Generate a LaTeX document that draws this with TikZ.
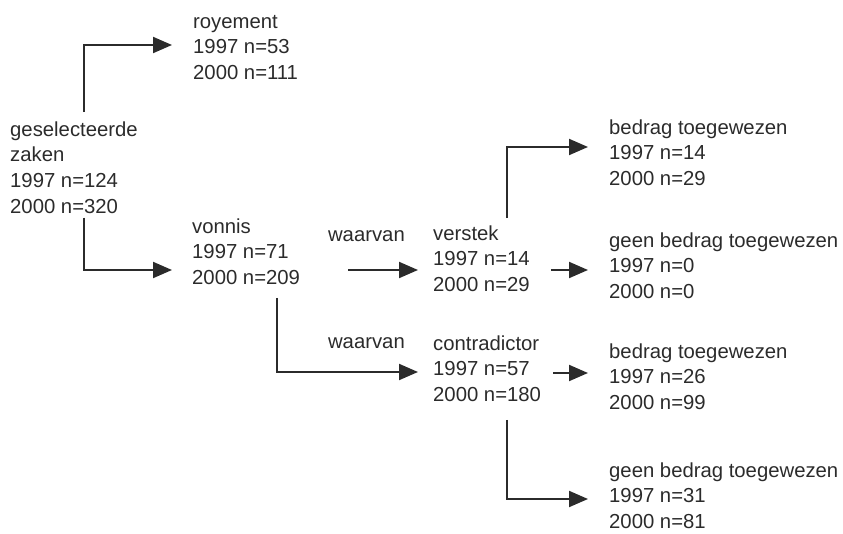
\documentclass[tikz,border=0pt]{standalone}
\usepackage{fontspec}
\setmainfont{Liberation Sans}
\usetikzlibrary{arrows.meta}
\definecolor{ink}{HTML}{2B2B2B}
\tikzset{
  txt/.style={anchor=north west,inner sep=0pt,align=left,text=ink,
    font=\fontsize{20.3}{25.7}\selectfont},
  lbl/.style={anchor=base east,inner sep=0pt,text=ink,
    font=\fontsize{20.3}{25.7}\selectfont},
  arr/.style={draw=ink,line width=2pt,-{Triangle[length=19pt,width=16pt]}}
}
\begin{document}
\begin{tikzpicture}[x=1pt,y=-1pt]
        \useasboundingbox (0,0) rectangle (843,533);
        %% Blocks
        \node[txt] (sel) at (10,118) {\strut geselecteerde\\zaken\\1997 n=124\\2000 n=320};
        \node[txt] (roy) at (193,10) {\strut royement\\1997 n=53\\2000 n=111};
        \node[txt] (von) at (192,215) {\strut vonnis\\1997 n=71\\2000 n=209};
        \node[txt] (ver) at (433,222) {\strut verstek\\1997 n=14\\2000 n=29};
        \node[txt] (con) at (433,332) {\strut contradictor\\1997 n=57\\2000 n=180};
        \node[txt] (bt1) at (609,116) {\strut bedrag toegewezen\\1997 n=14\\2000 n=29};
        \node[txt] (gb1) at (609,229) {\strut geen bedrag toegewezen\\1997 n=0\\2000 n=0};
        \node[txt] (bt2) at (609,340) {\strut bedrag toegewezen\\1997 n=26\\2000 n=99};
        \node[txt] (gb2) at (609,459) {\strut geen bedrag toegewezen\\1997 n=31\\2000 n=81};
        %% Labels
        \node[lbl] (wv1) at (405,241) {waarvan};
        \node[lbl] (wv2) at (405,348) {waarvan};
        %% Arrows
        \draw[arr] ([xshift=74pt,yshift=6pt]sel.north west) |- ([xshift=-21pt]roy.west);
        \draw[arr] ([xshift=74pt,yshift=-4pt]sel.south west) |- ([xshift=-20pt,yshift=-20pt]von.west);
        \draw[arr] ([xshift=48pt,yshift=-20pt]von.east) -- ([xshift=-15pt,yshift=-20pt]von.east -| ver.west);
        \draw[arr] ([xshift=85pt,yshift=-13pt]von.south west) |- ([xshift=-15pt,yshift=-5pt]con.west);
        \draw[arr] ([xshift=74pt,yshift=4pt]ver.north west) |- ([xshift=-21pt,yshift=4pt]bt1.west);
        \draw[arr] ([xshift=21pt,yshift=-13pt]ver.east) -- ([xshift=-21pt,yshift=-13pt]ver.east -| gb1.west);
        \draw[arr] ([xshift=12pt,yshift=-6pt]con.east) -- ([xshift=-21pt,yshift=-6pt]con.east -| bt2.west);
        \draw[arr] ([xshift=74pt,yshift=-18pt]con.south west) |- ([xshift=-21pt,yshift=-5pt]gb2.west);
    \end{tikzpicture}
\end{document}
